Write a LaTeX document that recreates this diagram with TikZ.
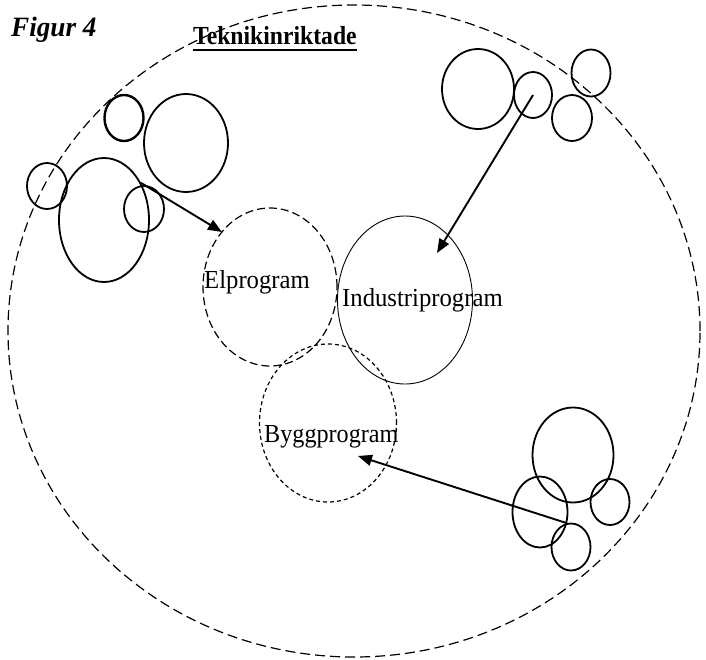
\documentclass[tikz,border=0pt]{standalone}
\usepackage{fontspec}
\setmainfont{Liberation Serif}
\usetikzlibrary{shapes.geometric,arrows.meta}
\begin{document}
\begin{tikzpicture}[x=1pt,y=-1pt,
  ell/.style={draw,ellipse,inner sep=0pt,line width=1.8pt},
  boldell/.style={ell,line width=2.4pt},
  prog/.style={font=\fontsize{26}{26}\selectfont,anchor=base west,inner sep=0pt},
  link/.style={line width=1.9pt,-{Triangle[length=14pt,width=11pt]}}]
\useasboundingbox (0,0) rectangle (706,659);
% outer region
\node[draw,ellipse,inner sep=0pt,minimum width=692pt,minimum height=652pt,line width=1.2pt,dash pattern=on 10pt off 5pt] (region) at (354,331) {};
% titles
\node[font=\fontsize{28}{28}\selectfont\bfseries\itshape,anchor=base west,inner sep=0pt] (fig) at (11,36) {\scalebox{0.97}[1]{Figur 4}};
\node[font=\fontsize{26}{26}\selectfont\bfseries,anchor=base west,inner sep=0pt] (title) at (193,44) {\scalebox{0.91}[1]{Teknikinriktade}};
\draw[line width=2.6pt] ([yshift=-6pt]title.base west) -- ([yshift=-6pt]title.base east);
% programmes
\node[draw,ellipse,inner sep=0pt,minimum width=134pt,minimum height=158pt,line width=1.2pt,dash pattern=on 8pt off 4pt] (el) at (270,287) {};
\node[draw,ellipse,inner sep=0pt,minimum width=135pt,minimum height=168pt,line width=0.9pt] (ind) at (405,300) {};
\node[draw,ellipse,inner sep=0pt,minimum width=137pt,minimum height=158pt,line width=1.2pt,dash pattern=on 4pt off 3pt] (bygg) at (328,423) {};
\node[prog] (eltxt) at (204,288) {\scalebox{0.95}[1]{Elprogram}};
\node[prog] (indtxt) at (342,306) {\scalebox{0.95}[1]{Industriprogram}};
\node[prog] (byggtxt) at (264,442) {\scalebox{0.93}[1]{Byggprogram}};
% top-left cluster
\node[boldell,minimum width=39pt,minimum height=46pt] (a1) at (124,118) {};
\node[ell,minimum width=84pt,minimum height=98pt] (a2) at (186,143) {};
\node[ell,minimum width=40pt,minimum height=46pt] (a3) at (47,186) {};
\node[ell,minimum width=90pt,minimum height=124pt] (a4) at (104,220) {};
\node[ell,minimum width=40pt,minimum height=46pt] (a5) at (144,209) {};
% top-right cluster
\node[ell,minimum width=72pt,minimum height=80pt] (b1) at (478,89) {};
\node[ell,minimum width=38pt,minimum height=46pt] (b2) at (533,95) {};
\node[ell,minimum width=39pt,minimum height=47pt] (b3) at (591,73) {};
\node[ell,minimum width=40pt,minimum height=46pt] (b4) at (572,118) {};
% bottom-right cluster
\node[ell,minimum width=81pt,minimum height=95pt] (c1) at (573,455) {};
\node[ell,minimum width=55pt,minimum height=71pt] (c2) at (540,512) {};
\node[ell,minimum width=39pt,minimum height=46pt] (c3) at (610,502) {};
\node[ell,minimum width=39pt,minimum height=47pt] (c4) at (571,547) {};
% connectors
\coordinate (elend) at (222,232);
\coordinate (indend) at (437,253);
\coordinate (byggend) at (358,456);
\draw[link] (a4.45) -- (elend);
\draw[link] (b2.center) -- (indend);
\draw[link] (c4.100) -- (byggend);
\end{tikzpicture}
\end{document}
